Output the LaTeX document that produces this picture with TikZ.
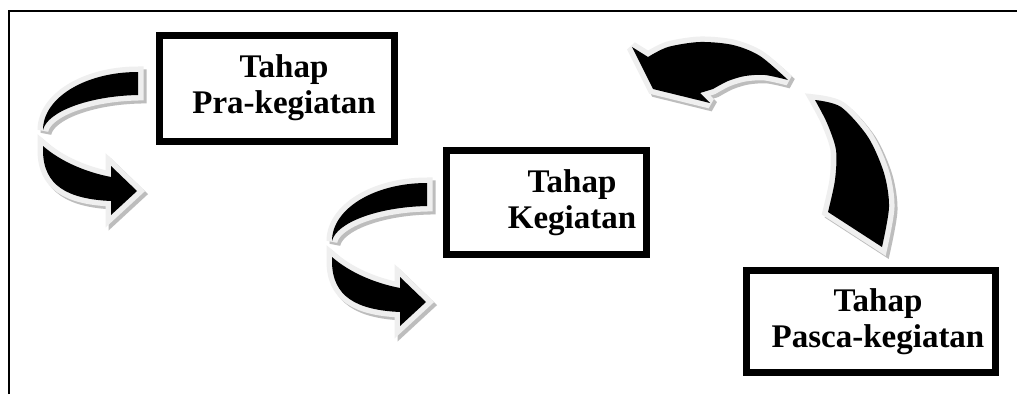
\documentclass[tikz,border=0pt]{standalone}
\usepackage{fontspec}
\setmainfont{Liberation Serif}
\definecolor{outl}{HTML}{EFEFEF}
\definecolor{shad}{HTML}{BDBDBD}
\pgfdeclarelayer{bg}
\pgfsetlayers{bg,main}
\tikzset{
  frameline/.style={line width=2.4pt, black},
  stagebox/.style={draw=black, line width=7pt, fill=white, inner sep=0pt, outer sep=0pt, line join=miter},
  boxshadow/.style={draw=shad, line width=7pt, line join=miter},
  stagetext/.style={font=\bfseries\fontsize{33}{36}\selectfont, align=center, inner sep=0pt},
  arrshadow/.style={fill=shad, draw=shad, line width=11pt, line join=miter, miter limit=3},
  arroutline/.style={fill=outl, draw=outl, line width=11pt, line join=miter, miter limit=3},
  arrbody/.style={fill=black},
  curvedarrow/.pic={
    \foreach \sty/\dx in {arrshadow/3, arroutline/0, arrbody/0}{
      \path[\sty, shift={(\dx,\dx)}]
        (138,72) .. controls (85,72) and (43,98) .. (43,130)
        .. controls (47,112) and (88,96) .. (138,95) -- cycle;
      \path[\sty, shift={(\dx,\dx)}]
        (43,146) .. controls (60,161) and (85,172) .. (111,177)
        -- (111,166) -- (137,191) -- (111,215) -- (111,201)
        .. controls (68,199) and (43,186) .. (43,150) -- cycle;
    }
  },
  bigarrow/.pic={
    \foreach \sty/\dx in {arrshadow/3, arroutline/0, arrbody/0}{
      \path[\sty, shift={(\dx,\dx)}]
        (632,47) -- (648,57)
        -- plot[smooth] coordinates {(648,57) (668,47) (700,42) (733,45) (760,56) (788,80)}
        -- plot[smooth] coordinates {(788,80) (765,75) (745,76) (728,81) (713,89)}
        -- (700,93) -- (710,103) -- (653,89) -- cycle;
      \path[\sty, shift={(\dx,\dx)}]
        plot[smooth] coordinates {(815,100) (841,107) (868,137) (884,173) (889,207) (882,247)}
        -- plot[smooth] coordinates {(828,212) (835,180) (836,150) (827,123) (815,100)}
        -- cycle;
    }
  }
}
\begin{document}
\begin{tikzpicture}[x=1pt,y=-1pt]
\useasboundingbox (0,0) rectangle (1017,394);
\fill[white] (0,0) rectangle (1017,394);
\draw[frameline] (9,394) -- (9,11) -- (1017,11);

% curved arrows
\pic at (0,0) {curvedarrow};
\pic at (289,111) {curvedarrow};
\pic at (0,0) {bigarrow};

% stage boxes
\node[stagebox, minimum width=235, minimum height=106] (b1) at (277,88.5) {};
\node[stagebox, minimum width=200, minimum height=104] (b2) at (546.5,202.5) {};
\node[stagebox, minimum width=249, minimum height=102] (b3) at (871,321.5) {};
\begin{pgfonlayer}{bg}
\foreach \b in {b1,b2,b3}{
  \draw[boxshadow] ([shift={(1.5,1.5)}]\b.north west) rectangle ([shift={(1.5,1.5)}]\b.south east);
}
\end{pgfonlayer}

\node[stagetext] (t1) at (284,88) {Tahap\\Pra-kegiatan};
\node[stagetext] (t2) at (572,203) {Tahap\\Kegiatan};
\node[stagetext] (t3) at (878,322) {Tahap\\Pasca-kegiatan};
\end{tikzpicture}
\end{document}
